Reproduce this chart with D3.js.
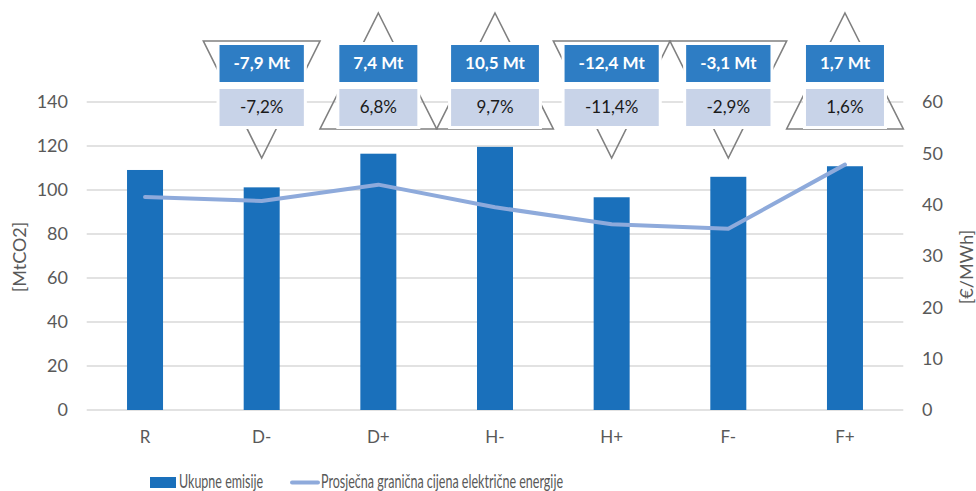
<!DOCTYPE html>
<html><head><meta charset="utf-8">
<script src="https://cdn.jsdelivr.net/npm/d3@7"></script>
<style>body{margin:0;background:#fff}svg{display:block}</style>
</head><body>
<svg id="c" width="976" height="491"></svg>
<script>
const categories = ["R","D-","D+","H-","H+","F-","F+"];
const emissions = [109.1, 101.2, 116.5, 119.6, 96.7, 106.0, 110.8];
const price = [41.5, 40.7, 43.9, 39.5, 36.2, 35.3, 47.8];
const deltaMt = [null, "-7,9 Mt", "7,4 Mt", "10,5 Mt", "-12,4 Mt", "-3,1 Mt", "1,7 Mt"];
const deltaPct = [null, "-7,2%", "6,8%", "9,7%", "-11,4%", "-2,9%", "1,6%"];
const deltaSign = [0, -1, 1, 1, -1, -1, 1];
const leftTicks = [0,20,40,60,80,100,120,140];
const rightTicks = [0,10,20,30,40,50,60];

const F = "Lato, 'Open Sans', sans-serif";
const svg = d3.select("#c");
const L = 86.7, R = 903.3, T = 102, B = 410;
const x = d3.scaleBand().domain(categories).range([L, R]);
const yL = d3.scaleLinear().domain([0,140]).range([B, T]);
const yR = d3.scaleLinear().domain([0,60]).range([B, T]);

// gridlines
svg.append("g").selectAll("line").data(leftTicks).join("line")
  .attr("x1", L).attr("x2", R).attr("y1", d=>yL(d)).attr("y2", d=>yL(d))
  .attr("stroke", "#d9d9d9").attr("stroke-width", 1.5);

// left ticks
svg.append("g").selectAll("text").data(leftTicks).join("text")
  .attr("x", 68).attr("y", d=>yL(d)).attr("dy","0.35em").attr("text-anchor","end")
  .attr("font-family",F).attr("font-size",18).attr("fill","#595959").text(d=>d);
// right ticks
svg.append("g").selectAll("text").data(rightTicks).join("text")
  .attr("x", 922).attr("y", d=>yR(d)).attr("dy","0.35em").attr("text-anchor","start")
  .attr("font-family",F).attr("font-size",18).attr("fill","#595959").text(d=>d);

// axis titles
svg.append("text").attr("transform","translate(26,257) rotate(-90)").attr("text-anchor","middle")
  .attr("font-family",F).attr("font-size",18).attr("fill","#595959").text("[MtCO2]");
svg.append("text").attr("transform","translate(973,267) rotate(-90)").attr("text-anchor","middle")
  .attr("font-family",F).attr("font-size",18).attr("fill","#595959").text("[€/MWh]");

// bars
const bw = 36;
svg.append("g").selectAll("rect").data(emissions).join("rect")
  .attr("x", (d,i)=>x(categories[i]) + x.bandwidth()/2 - bw/2)
  .attr("width", bw).attr("y", d=>yL(d)).attr("height", d=>B - yL(d))
  .attr("fill", "#1a70bb");

// line
const line = d3.line().x((d,i)=>x(categories[i]) + x.bandwidth()/2).y(d=>yR(d));
svg.append("path").datum(price).attr("d", line).attr("fill","none")
  .attr("stroke","#8eaadb").attr("stroke-width",4).attr("stroke-linecap","round").attr("stroke-linejoin","round");

// category labels
svg.append("g").selectAll("text").data(categories).join("text")
  .attr("x", d=>x(d)+x.bandwidth()/2).attr("y", 437).attr("dy","0.35em").attr("text-anchor","middle")
  .attr("font-family",F).attr("font-size",17).attr("fill","#595959").text(d=>d);

// annotations
const ann = svg.append("g");
categories.forEach((c,i)=>{
  if (!deltaSign[i]) return;
  const cx = x(c) + x.bandwidth()/2;
  const hw = x.bandwidth()/2;
  let pts;
  if (deltaSign[i] < 0) pts = [[cx-hw,41],[cx+hw,41],[cx,158]];
  else pts = [[cx,13],[cx+hw,129],[cx-hw,129]];
  ann.append("polygon").attr("points", pts.map(p=>p.join(",")).join(" "))
    .attr("fill","none").attr("stroke","#808080").attr("stroke-width",1.6);
});
categories.forEach((c,i)=>{
  if (!deltaSign[i]) return;
  const cx = x(c) + x.bandwidth()/2;
  const g = ann.append("g");
  const t1 = g.append("text").attr("x",cx).attr("y",63.5).attr("dy","0.35em").attr("text-anchor","middle")
    .attr("font-family",F).attr("font-weight","bold").attr("font-size",17).attr("fill","#fff").text(deltaMt[i]);
  const w = Math.max(t1.node().getComputedTextLength() + 28, 78);
  g.insert("rect","text").attr("x",cx-w/2-3).attr("y",42).attr("width",w+6).attr("height",87).attr("fill","#fff");
  g.insert("rect","text").attr("x",cx-w/2).attr("y",45).attr("width",w).attr("height",37).attr("fill","#2e7dc4");
  g.append("rect").attr("x",cx-w/2).attr("y",89).attr("width",w).attr("height",37).attr("fill","#c8d3e8");
  g.append("text").attr("x",cx).attr("y",107.5).attr("dy","0.35em").attr("text-anchor","middle")
    .attr("font-family",F).attr("font-size",17).attr("fill","#1a1a1a").text(deltaPct[i]);
});

// legend
const lg = svg.append("g");
lg.append("rect").attr("x",150).attr("y",477).attr("width",26).attr("height",11).attr("fill","#1a70bb");
lg.append("text").attr("x",179).attr("y",488).attr("font-family",F).attr("font-size",19)
  .attr("textLength",84).attr("lengthAdjust","spacingAndGlyphs")
  .attr("fill","#595959").text("Ukupne emisije");
lg.append("line").attr("x1",292).attr("x2",318).attr("y1",482.5).attr("y2",482.5).attr("stroke","#8eaadb").attr("stroke-width",4).attr("stroke-linecap","round");
lg.append("text").attr("x",321).attr("y",488).attr("font-family",F).attr("font-size",19)
  .attr("textLength",242).attr("lengthAdjust","spacingAndGlyphs")
  .attr("fill","#595959").text("Prosječna granična cijena električne energije");
</script>
</body></html>
